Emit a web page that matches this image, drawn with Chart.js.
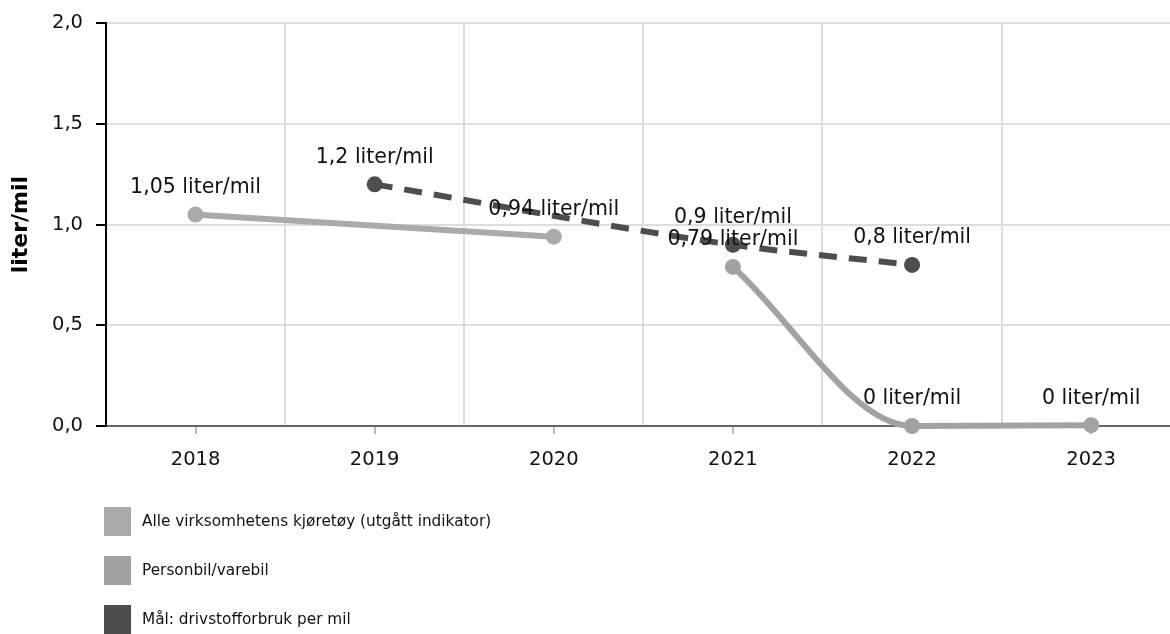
<!DOCTYPE html>
<html>
<head>
<meta charset="utf-8">
<script src="https://cdn.jsdelivr.net/npm/chart.js@4.4.0/dist/chart.umd.min.js"></script>
<style>
    body { margin: 0; background: #fff; overflow: hidden; }
    #wrap { width: 1170px; height: 634px; position: relative; }
</style>
</head>
<body>
<div id="wrap"><canvas id="Chart"></canvas></div>
<script>
const years = [2018, 2019, 2020, 2021, 2022, 2023];
const alleKjoretoy = [1.05, null, 0.94, null, null, null];
const personbil = [null, null, null, 0.79, 0, 0.004];
const maal = [null, 1.2, null, 0.9, 0.8, null];
const yTicks = [0, 0.5, 1, 1.5, 2];
const seriesNames = [
    'Alle virksomhetens kjøretøy (utgått indikator)',
    'Personbil/varebil',
    'Mål: drivstofforbruk per mil'
];
const seriesColors = ['#aaaaaa', '#a2a2a2', '#4d4d4d'];
const unit = 'liter/mil';

document.addEventListener("DOMContentLoaded", function () {

    const font = 'DejaVu Sans';

    function toPoints(values) {
        return years.map((x, i) => ({ x: x, y: values[i] })).filter(p => p.y !== null);
    }

    function comma(v, decimals) {
        return v.toFixed(decimals).replace('.', ',');
    }

    // etiketter over punktene
    const pointLabels = {
        id: 'pointLabels',
        afterDatasetsDraw(chart) {
            const ctx = chart.ctx;
            ctx.save();
            ctx.font = '20.5px "' + font + '"';
            ctx.fillStyle = '#111';
            ctx.textAlign = 'center';
            ctx.textBaseline = 'middle';
            chart.data.datasets.forEach((ds, i) => {
                const meta = chart.getDatasetMeta(i);
                meta.data.forEach((el, j) => {
                    const v = Math.round(ds.data[j].y * 100) / 100;
                    ctx.fillText(String(v).replace('.', ',') + ' ' + unit, el.x, el.y - 27);
                });
            });
            ctx.restore();
        }
    };

    // legende under grafen, ett element per linje
    const stackedLegend = {
        id: 'stackedLegend',
        afterDraw(chart) {
            const ctx = chart.ctx;
            const top = chart.scales.x.bottom;
            ctx.save();
            ctx.font = '15.3px "' + font + '"';
            ctx.textBaseline = 'middle';
            ctx.textAlign = 'left';
            chart.data.datasets.forEach((ds, i) => {
                const cy = top + 38 + i * 49;
                ctx.fillStyle = ds.borderColor;
                ctx.fillRect(104, cy - 15, 27, 29);
                ctx.fillStyle = '#111';
                ctx.fillText(ds.label, 142, cy);
            });
            ctx.restore();
        }
    };

    const lineBase = {
        borderWidth: 6,
        pointRadius: 8,
        pointHoverRadius: 8,
        pointBorderWidth: 0,
        cubicInterpolationMode: 'monotone',
        spanGaps: true,
        clip: false
    };

    const dataForChart = {
        datasets: [
            Object.assign({}, lineBase, {
                label: seriesNames[0],
                data: toPoints(alleKjoretoy),
                borderColor: seriesColors[0],
                backgroundColor: seriesColors[0],
                pointBackgroundColor: seriesColors[0]
            }),
            Object.assign({}, lineBase, {
                label: seriesNames[1],
                data: toPoints(personbil),
                borderColor: seriesColors[1],
                backgroundColor: seriesColors[1],
                pointBackgroundColor: seriesColors[1]
            }),
            Object.assign({}, lineBase, {
                label: seriesNames[2],
                data: toPoints(maal),
                borderColor: seriesColors[2],
                backgroundColor: seriesColors[2],
                pointBackgroundColor: seriesColors[2],
                borderDash: [18, 12]
            })
        ]
    };

    const config = {
        type: 'line',
        data: dataForChart,
        plugins: [pointLabels, stackedLegend],
        options: {
            responsive: true,
            maintainAspectRatio: false,
            animation: false,
            layout: { autoPadding: false, padding: { top: 9, right: 0, bottom: 150, left: 0 } },
            plugins: {
                legend: { display: false },
                tooltip: { enabled: false }
            },
            scales: {
                x: {
                    type: 'linear',
                    min: years[0] - 0.5,
                    max: 2023.44,
                    afterBuildTicks(scale) {
                        const t = [];
                        years.forEach(y => {
                            t.push({ value: y - 0.5 });
                            t.push({ value: y });
                        });
                        scale.ticks = t;
                    },
                    afterFit(scale) { scale.height = 58; },
                    border: { color: '#666', width: 2 },
                    grid: {
                        color: c => (c.tick && !Number.isInteger(c.tick.value)) ? '#dddddd' : 'rgba(0,0,0,0)',
                        tickColor: c => (c.tick && Number.isInteger(c.tick.value)) ? '#bbbbbb' : 'rgba(0,0,0,0)',
                        lineWidth: 2,
                        tickLength: 8,
                        tickWidth: 2
                    },
                    ticks: {
                        color: '#111',
                        padding: 14,
                        maxRotation: 0,
                        autoSkip: false,
                        font: { family: font, size: 19.5 },
                        callback: v => Number.isInteger(v) ? String(v) : ''
                    }
                },
                y: {
                    min: yTicks[0],
                    max: yTicks[yTicks.length - 1],
                    afterBuildTicks(scale) {
                        scale.ticks = yTicks.map(v => ({ value: v }));
                    },
                    afterFit(scale) { scale.width = 106; },
                    border: { color: '#000', width: 2 },
                    grid: {
                        color: '#dddddd',
                        lineWidth: 2,
                        tickColor: '#000',
                        tickLength: 10,
                        tickWidth: 2
                    },
                    ticks: {
                        color: '#111',
                        padding: 13,
                        font: { family: font, size: 19.5, lineHeight: 1.05 },
                        callback: v => comma(v, 1)
                    },
                    title: {
                        display: true,
                        text: unit,
                        color: '#000',
                        padding: { top: 8, bottom: 0 },
                        font: { family: font, size: 22, weight: 'bold' }
                    }
                }
            }
        }
    };

    new Chart(document.getElementById('Chart'), config);
});
</script>
</body>
</html>
